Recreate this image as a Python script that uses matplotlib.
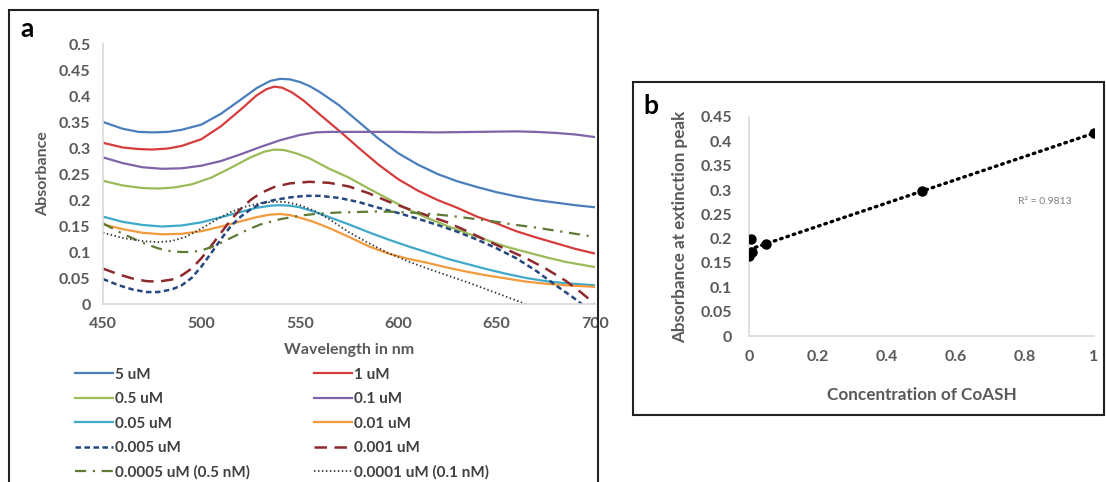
import numpy as np
import matplotlib
matplotlib.use("Agg")
import matplotlib.pyplot as plt
from matplotlib.patches import Rectangle

plt.rcParams['font.family'] = ['Lato', 'DejaVu Sans']

# ---------------- Panel a data ----------------
wl_5uM = [450, 460, 468, 475, 483, 490, 500, 510, 520, 528, 535, 540, 545, 550, 555, 560, 570, 580, 590, 600, 610, 620, 630, 640, 650, 660, 670, 680, 690, 700]
a_5uM = [0.35, 0.337, 0.331, 0.33, 0.331, 0.335, 0.345, 0.366, 0.393, 0.415, 0.429, 0.433, 0.432, 0.427, 0.419, 0.408, 0.382, 0.35, 0.318, 0.29, 0.268, 0.25, 0.236, 0.225, 0.215, 0.207, 0.2, 0.195, 0.19, 0.186]

wl_1uM = [450, 460, 468, 475, 483, 490, 500, 510, 520, 528, 533, 537, 541, 546, 552, 560, 571, 580, 590, 600, 610, 620, 630, 640, 650, 660, 670, 680, 690, 700]
a_1uM = [0.31, 0.301, 0.298, 0.297, 0.299, 0.304, 0.317, 0.342, 0.374, 0.401, 0.413, 0.418, 0.416, 0.407, 0.391, 0.365, 0.33, 0.3, 0.268, 0.24, 0.218, 0.2, 0.185, 0.168, 0.155, 0.14, 0.128, 0.117, 0.106, 0.097]

wl_05uM = [450, 460, 470, 478, 486, 495, 505, 515, 525, 532, 537, 542, 548, 555, 565, 575, 585, 595, 605, 615, 625, 635, 645, 655, 665, 675, 685, 700]
a_05uM = [0.237, 0.228, 0.223, 0.222, 0.224, 0.23, 0.243, 0.262, 0.282, 0.293, 0.297, 0.296, 0.29, 0.28, 0.26, 0.243, 0.222, 0.202, 0.182, 0.165, 0.15, 0.136, 0.123, 0.11, 0.1, 0.09, 0.081, 0.071]

wl_01uM = [450, 460, 470, 480, 490, 500, 510, 520, 530, 540, 550, 558, 565, 580, 600, 620, 640, 660, 670, 680, 690, 700]
a_01uM = [0.282, 0.271, 0.263, 0.26, 0.261, 0.266, 0.275, 0.288, 0.302, 0.315, 0.325, 0.33, 0.331, 0.331, 0.331, 0.33, 0.331, 0.332, 0.331, 0.329, 0.326, 0.321]

wl_005uM = [450, 460, 470, 480, 490, 500, 510, 520, 528, 535, 540, 545, 550, 557, 565, 575, 585, 595, 605, 615, 625, 635, 645, 655, 665, 675, 685, 700]
a_005uM = [0.168, 0.158, 0.152, 0.149, 0.151, 0.157, 0.167, 0.177, 0.185, 0.189, 0.19, 0.189, 0.186, 0.178, 0.167, 0.153, 0.138, 0.124, 0.111, 0.099, 0.087, 0.077, 0.067, 0.058, 0.05, 0.044, 0.04, 0.036]

wl_001uM = [450, 460, 470, 480, 490, 500, 510, 520, 528, 535, 540, 545, 550, 557, 565, 575, 585, 595, 605, 615, 625, 635, 645, 655, 665, 675, 685, 700]
a_001uM = [0.153, 0.144, 0.137, 0.134, 0.135, 0.14, 0.149, 0.159, 0.167, 0.172, 0.173, 0.171, 0.166, 0.158, 0.146, 0.129, 0.111, 0.097, 0.087, 0.079, 0.07, 0.062, 0.055, 0.049, 0.043, 0.039, 0.036, 0.033]

wl_0005uM = [450, 458, 465, 472, 478, 485, 490, 495, 500, 505, 510, 515, 520, 525, 530, 537, 545, 553, 560, 570, 580, 590, 600, 610, 620, 630, 640, 650, 660, 670, 680, 688, 695, 700]
a_0005uM = [0.048, 0.036, 0.028, 0.023, 0.023, 0.028, 0.036, 0.05, 0.072, 0.098, 0.125, 0.15, 0.168, 0.182, 0.193, 0.2, 0.205, 0.208, 0.208, 0.204, 0.196, 0.185, 0.175, 0.164, 0.152, 0.139, 0.124, 0.107, 0.088, 0.064, 0.036, 0.015, -0.005, -0.02]

wl_0001uM = [450, 458, 465, 472, 478, 485, 490, 495, 500, 505, 510, 515, 520, 525, 530, 537, 545, 555, 565, 575, 585, 595, 605, 615, 625, 635, 645, 655, 665, 675, 685, 693, 700]
a_0001uM = [0.068, 0.057, 0.049, 0.044, 0.043, 0.047, 0.055, 0.068, 0.088, 0.112, 0.137, 0.162, 0.183, 0.2, 0.213, 0.225, 0.232, 0.235, 0.233, 0.226, 0.213, 0.197, 0.183, 0.17, 0.157, 0.14, 0.122, 0.105, 0.088, 0.068, 0.045, 0.022, 0.0]

wl_05nM = [450, 460, 470, 478, 485, 490, 495, 500, 507, 515, 523, 530, 540, 550, 560, 570, 580, 590, 600, 610, 620, 630, 640, 650, 660, 670, 680, 690, 700]
a_05nM = [0.155, 0.135, 0.118, 0.107, 0.101, 0.1, 0.1, 0.103, 0.112, 0.127, 0.142, 0.153, 0.163, 0.17, 0.174, 0.176, 0.177, 0.178, 0.177, 0.175, 0.172, 0.168, 0.163, 0.158, 0.152, 0.147, 0.141, 0.135, 0.129]

wl_01nM = [450, 460, 470, 478, 485, 492, 500, 508, 515, 522, 530, 537, 543, 550, 557, 565, 575, 585, 595, 605, 615, 625, 635, 645, 655, 666]
a_01nM = [0.137, 0.127, 0.121, 0.119, 0.121, 0.129, 0.145, 0.163, 0.177, 0.187, 0.194, 0.197, 0.196, 0.19, 0.18, 0.163, 0.138, 0.117, 0.098, 0.082, 0.068, 0.055, 0.042, 0.028, 0.014, -0.002]

labels_a = ["5 uM", "1 uM", "0.5 uM", "0.1 uM", "0.05 uM", "0.01 uM",
            "0.005 uM", "0.001 uM", "0.0005 uM (0.5 nM)", "0.0001 uM (0.1 nM)"]
x_ticks_a = [450, 500, 550, 600, 650, 700]
y_ticks_a = [0, 0.05, 0.1, 0.15, 0.2, 0.25, 0.3, 0.35, 0.4, 0.45, 0.5]

# ---------------- Panel b data ----------------
conc_b = [1, 0.5, 0.05, 0.01, 0.005, 0.001]
peak_b = [0.417, 0.297, 0.19, 0.172, 0.2, 0.165]
x_ticks_b = [0, 0.2, 0.4, 0.6, 0.8, 1]
y_ticks_b = [0, 0.05, 0.1, 0.15, 0.2, 0.25, 0.3, 0.35, 0.4, 0.45]
r2_text = "R² = 0.9813"

W, H = 1106, 482
fig = plt.figure(figsize=(W / 100, H / 100), dpi=100)

def fx(px):
    return px / W

def fy(py):
    return 1 - py / H

# Panel boxes
fig.patches.append(Rectangle((fx(9), fy(490)), fx(598 - 9), (490 - 10) / H,
                             transform=fig.transFigure, fill=False,
                             edgecolor='#222222', linewidth=1.5))
fig.patches.append(Rectangle((fx(633), fy(415)), fx(1104 - 633), (415 - 82) / H,
                             transform=fig.transFigure, fill=False,
                             edgecolor='#222222', linewidth=1.5))

tick_color = '#595959'
spine_color = '#D9D9D9'

# ---------------- Panel a ----------------
axa = fig.add_axes([fx(103), fy(304), fx(595 - 103), (304 - 44) / H])
series = [
    (wl_5uM, a_5uM, dict(color='#4A7EBB', lw=1.6, ls='-')),
    (wl_1uM, a_1uM, dict(color='#D63C3C', lw=1.6, ls='-')),
    (wl_05uM, a_05uM, dict(color='#9BBB59', lw=1.6, ls='-')),
    (wl_01uM, a_01uM, dict(color='#7F63A8', lw=1.6, ls='-')),
    (wl_005uM, a_005uM, dict(color='#3FA9C9', lw=1.6, ls='-')),
    (wl_001uM, a_001uM, dict(color='#F39A3C', lw=1.6, ls='-')),
    (wl_0005uM, a_0005uM, dict(color='#24477F', lw=1.8, ls=(0, (2.2, 1.4)))),
    (wl_0001uM, a_0001uM, dict(color='#8E2A2E', lw=1.8, ls=(0, (5, 3)))),
    (wl_05nM, a_05nM, dict(color='#5E7A34', lw=1.6, ls=(0, (5, 3, 1, 3)))),
    (wl_01nM, a_01nM, dict(color='#333333', lw=1.3, ls=(0, (0.8, 1.4)))),
]
handles = []
for (xs, ys, st), lab in zip(series, labels_a):
    h, = axa.plot(xs, ys, label=lab, **st)
    handles.append(h)

axa.set_xlim(450, 700)
axa.set_ylim(0, 0.5)
axa.set_xticks(x_ticks_a)
axa.set_yticks(y_ticks_a)
axa.set_yticklabels([f"{v:g}" for v in y_ticks_a])
axa.tick_params(length=0, labelsize=11.5, labelcolor=tick_color, pad=9)
for lab in axa.get_xticklabels() + axa.get_yticklabels():
    lab.set_fontweight('bold')
for s in ['top', 'right']:
    axa.spines[s].set_visible(False)
for s in ['left', 'bottom']:
    axa.spines[s].set_color(spine_color)
    axa.spines[s].set_linewidth(1.2)
axa.set_xlabel("Wavelength in nm", fontsize=11.5, fontweight='bold', color=tick_color, labelpad=9)
axa.set_ylabel("Absorbance", fontsize=11.5, fontweight='bold', color=tick_color, labelpad=6)

order = [0, 2, 4, 6, 8, 1, 3, 5, 7, 9]
leg = fig.legend([handles[i] for i in order], [labels_a[i] for i in order],
                 ncol=2, loc='upper left', bbox_to_anchor=(fx(61), fy(354)),
                 frameon=False, handlelength=2.5, handletextpad=0.15,
                 labelspacing=0.68, columnspacing=4.15,
                 prop={'weight': 'bold', 'size': 11})
for t in leg.get_texts():
    t.set_color('#404040')

fig.text(fx(20), fy(29), "a", fontsize=19, fontweight='bold', va='center', ha='left')

# ---------------- Panel b ----------------
axb = fig.add_axes([fx(749), fy(336), fx(1094 - 749), (336 - 117) / H])
slope, intercept = np.polyfit(conc_b, peak_b, 1)
xf = np.array([0, 1])
axb.plot(xf, slope * xf + intercept, color='black', lw=2.4, ls=(0, (0.5, 1.5)),
         dash_capstyle='round', zorder=2)
axb.plot(conc_b, peak_b, 'o', color='black', markersize=6.5, zorder=3)
axb.set_xlim(0, 1)
axb.set_ylim(0, 0.45)
axb.set_xticks(x_ticks_b)
axb.set_xticklabels([f"{v:g}" for v in x_ticks_b])
axb.set_yticks(y_ticks_b)
axb.set_yticklabels([f"{v:g}" for v in y_ticks_b])
axb.tick_params(axis='y', length=0, labelsize=11.5, labelcolor=tick_color, pad=12)
axb.tick_params(axis='x', length=0, labelsize=11.5, labelcolor=tick_color, pad=10)
for lab in axb.get_xticklabels() + axb.get_yticklabels():
    lab.set_fontweight('bold')
for s in ['top', 'right']:
    axb.spines[s].set_visible(False)
for s in ['left', 'bottom']:
    axb.spines[s].set_color(spine_color)
    axb.spines[s].set_linewidth(1.2)
axb.set_xlabel("Concentration of CoASH", fontsize=12.3, fontweight='bold', color=tick_color, labelpad=17)
axb.set_ylabel("Absorbance at extinction peak", fontsize=12.3, fontweight='bold', color=tick_color, labelpad=9)
axb.text(0.78, 0.277, r2_text, fontsize=7.5, color='#7F7F7F', va='center', ha='left')
axb.patch.set_alpha(0)

fig.text(fx(643), fy(106), "b", fontsize=19, fontweight='bold', va='center', ha='left')

fig.savefig("out.png", dpi=100)
